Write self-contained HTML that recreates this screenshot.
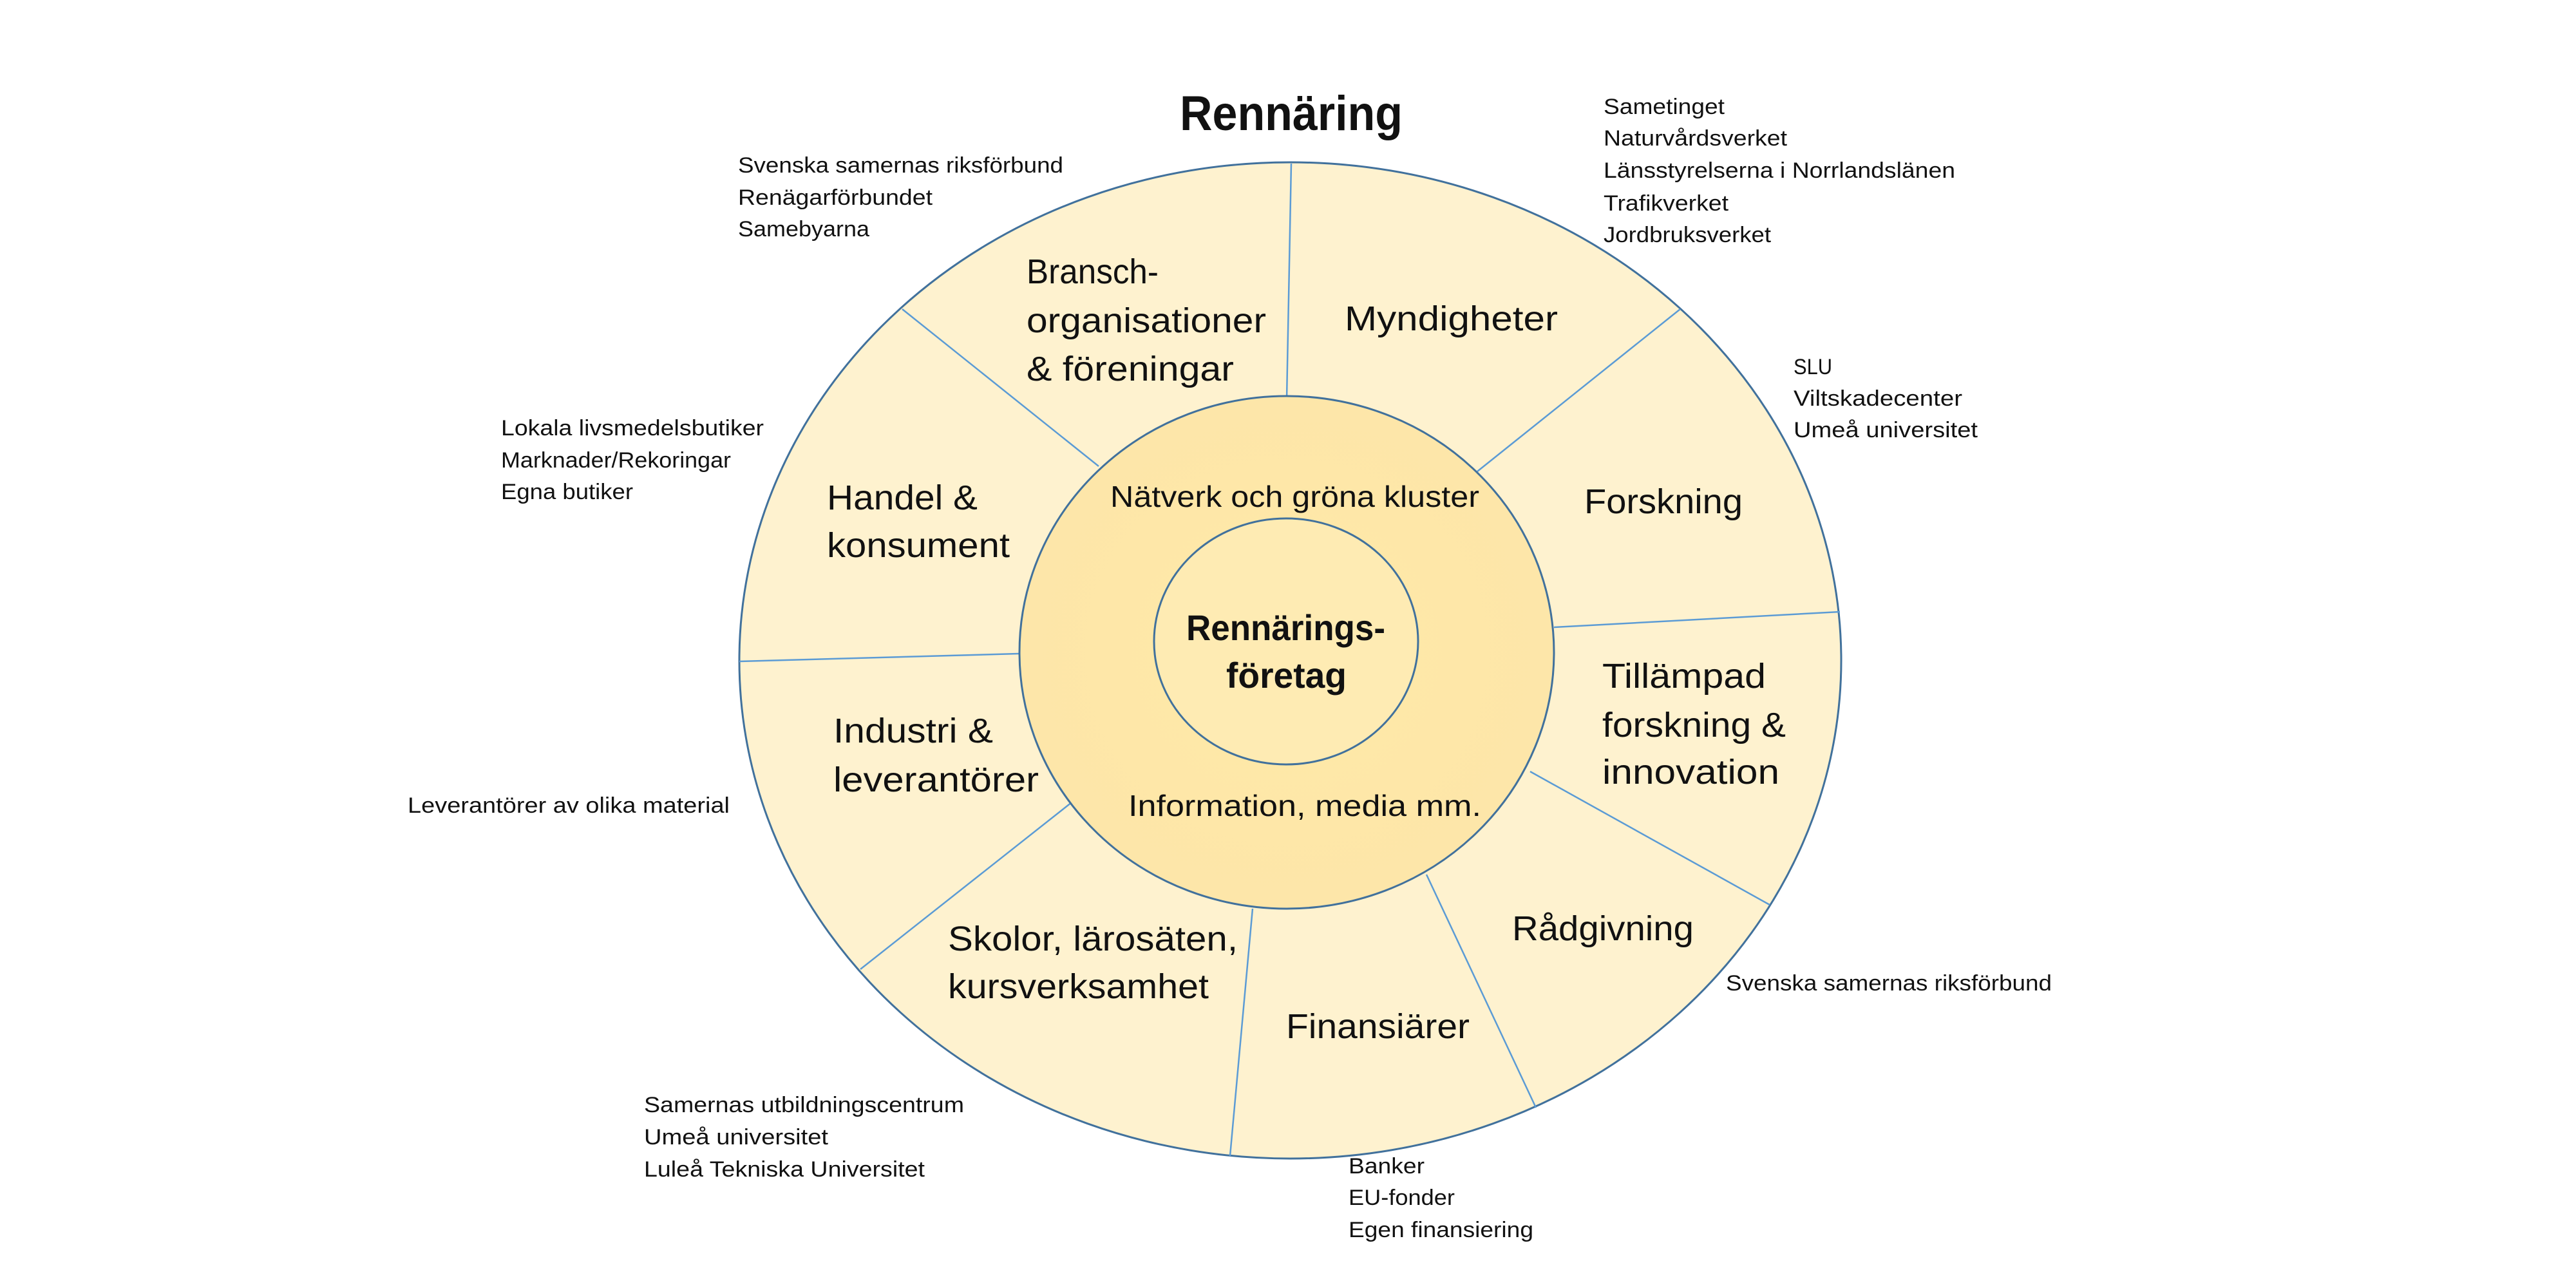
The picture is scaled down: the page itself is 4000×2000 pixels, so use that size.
<!DOCTYPE html>
<html><head><meta charset="utf-8"><style>
html,body{margin:0;padding:0;background:#fff;}
svg{display:block;}
text{font-family:"Liberation Sans",sans-serif;fill:#111;}
.s{font-size:54px;}
.m{font-size:46px;}
.e{font-size:34px;}
</style></head><body>
<svg width="4000" height="2000" viewBox="0 0 4000 2000" xmlns="http://www.w3.org/2000/svg">
<defs>
<radialGradient id="g" cx="50%" cy="50%" r="50%">
<stop offset="0" stop-color="#FFE9A6"/>
<stop offset="1" stop-color="#FDE6A9"/>
</radialGradient>
</defs>
<ellipse cx="2003.5" cy="1025.5" rx="855.5" ry="773.5" fill="#FEF2CF" stroke="#41719C" stroke-width="3"/>
<g stroke="#5B9BD5" stroke-width="2.5">
<line x1="2005" y1="254" x2="1998" y2="620"/>
<line x1="2609" y1="480" x2="2294" y2="732"/>
<line x1="2857" y1="950" x2="2413" y2="974"/>
<line x1="2748" y1="1405" x2="2376" y2="1198"/>
<line x1="2385" y1="1720" x2="2215" y2="1358"/>
<line x1="1910" y1="1795" x2="1945" y2="1411"/>
<line x1="1336" y1="1505" x2="1664" y2="1246"/>
<line x1="1148" y1="1027" x2="1582" y2="1015"/>
<line x1="1401" y1="480" x2="1706" y2="724"/>
</g>
<ellipse cx="1998" cy="1013" rx="415" ry="398" fill="url(#g)" stroke="#41719C" stroke-width="3"/>
<ellipse cx="1997" cy="996" rx="205" ry="191" fill="#FEEBB3" stroke="#41719C" stroke-width="3"/>

<text x="1832" y="202" font-size="76" font-weight="bold" textLength="346" lengthAdjust="spacingAndGlyphs">Rennäring</text>

<text class="s" x="1594" y="440" textLength="205" lengthAdjust="spacingAndGlyphs">Bransch-</text>
<text class="s" x="1594" y="516" textLength="372" lengthAdjust="spacingAndGlyphs">organisationer</text>
<text class="s" x="1594" y="591" textLength="322" lengthAdjust="spacingAndGlyphs">&amp; föreningar</text>
<text class="s" x="2088" y="513" textLength="331" lengthAdjust="spacingAndGlyphs">Myndigheter</text>
<text class="s" x="2460" y="797" textLength="246" lengthAdjust="spacingAndGlyphs">Forskning</text>
<text class="s" x="2488" y="1068" textLength="254" lengthAdjust="spacingAndGlyphs">Tillämpad</text>
<text class="s" x="2488" y="1144" textLength="285" lengthAdjust="spacingAndGlyphs">forskning &amp;</text>
<text class="s" x="2488" y="1217" textLength="275" lengthAdjust="spacingAndGlyphs">innovation</text>
<text class="s" x="2348" y="1460" textLength="282" lengthAdjust="spacingAndGlyphs">Rådgivning</text>
<text class="s" x="1997" y="1612" textLength="285" lengthAdjust="spacingAndGlyphs">Finansiärer</text>
<text class="s" x="1472" y="1476" textLength="450" lengthAdjust="spacingAndGlyphs">Skolor,  lärosäten,</text>
<text class="s" x="1472" y="1550" textLength="405" lengthAdjust="spacingAndGlyphs">kursverksamhet</text>
<text class="s" x="1294" y="1153" textLength="248" lengthAdjust="spacingAndGlyphs">Industri &amp;</text>
<text class="s" x="1294" y="1229" textLength="319" lengthAdjust="spacingAndGlyphs">leverantörer</text>
<text class="s" x="1284" y="791" textLength="234" lengthAdjust="spacingAndGlyphs">Handel &amp;</text>
<text class="s" x="1284" y="865" textLength="284" lengthAdjust="spacingAndGlyphs">konsument</text>

<text class="m" x="1724" y="787" textLength="573" lengthAdjust="spacingAndGlyphs">Nätverk och gröna kluster</text>
<text class="m" x="1752" y="1267" textLength="548" lengthAdjust="spacingAndGlyphs">Information, media mm.</text>
<text x="1842" y="994" font-size="56" font-weight="bold" textLength="309" lengthAdjust="spacingAndGlyphs">Rennärings-</text>
<text x="1904" y="1068" font-size="56" font-weight="bold" textLength="187" lengthAdjust="spacingAndGlyphs">företag</text>

<text class="e" x="1146" y="268" textLength="505" lengthAdjust="spacingAndGlyphs">Svenska samernas riksförbund</text>
<text class="e" x="1146" y="318" textLength="302" lengthAdjust="spacingAndGlyphs">Renägarförbundet</text>
<text class="e" x="1146" y="367" textLength="204" lengthAdjust="spacingAndGlyphs">Samebyarna</text>

<text class="e" x="2490" y="177" textLength="188" lengthAdjust="spacingAndGlyphs">Sametinget</text>
<text class="e" x="2490" y="226" textLength="285" lengthAdjust="spacingAndGlyphs">Naturvårdsverket</text>
<text class="e" x="2490" y="276" textLength="546" lengthAdjust="spacingAndGlyphs">Länsstyrelserna i Norrlandslänen</text>
<text class="e" x="2490" y="327" textLength="194" lengthAdjust="spacingAndGlyphs">Trafikverket</text>
<text class="e" x="2490" y="376" textLength="260" lengthAdjust="spacingAndGlyphs">Jordbruksverket</text>

<text class="e" x="2785" y="581" textLength="60" lengthAdjust="spacingAndGlyphs">SLU</text>
<text class="e" x="2785" y="630" textLength="262" lengthAdjust="spacingAndGlyphs">Viltskadecenter</text>
<text class="e" x="2785" y="679" textLength="286" lengthAdjust="spacingAndGlyphs">Umeå universitet</text>

<text class="e" x="778" y="676" textLength="408" lengthAdjust="spacingAndGlyphs">Lokala livsmedelsbutiker</text>
<text class="e" x="778" y="726" textLength="357" lengthAdjust="spacingAndGlyphs">Marknader/Rekoringar</text>
<text class="e" x="778" y="775" textLength="205" lengthAdjust="spacingAndGlyphs">Egna butiker</text>

<text class="e" x="633" y="1262" textLength="500" lengthAdjust="spacingAndGlyphs">Leverantörer av olika material</text>

<text class="e" x="2680" y="1538" textLength="506" lengthAdjust="spacingAndGlyphs">Svenska samernas riksförbund</text>

<text class="e" x="1000" y="1727" textLength="497" lengthAdjust="spacingAndGlyphs">Samernas utbildningscentrum</text>
<text class="e" x="1000" y="1777" textLength="286" lengthAdjust="spacingAndGlyphs">Umeå universitet</text>
<text class="e" x="1000" y="1827" textLength="436" lengthAdjust="spacingAndGlyphs">Luleå Tekniska Universitet</text>

<text class="e" x="2094" y="1822" textLength="118" lengthAdjust="spacingAndGlyphs">Banker</text>
<text class="e" x="2094" y="1871" textLength="165" lengthAdjust="spacingAndGlyphs">EU-fonder</text>
<text class="e" x="2094" y="1921" textLength="287" lengthAdjust="spacingAndGlyphs">Egen finansiering</text>
</svg>
</body></html>
